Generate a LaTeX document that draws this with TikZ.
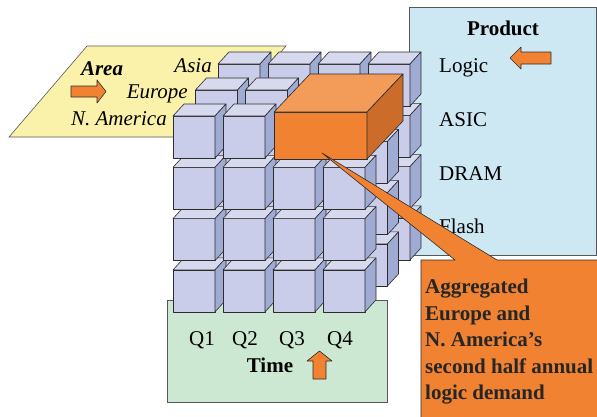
\documentclass[tikz,border=0pt]{standalone}
\usepackage{fontspec}
\setmainfont{Liberation Serif}
\definecolor{cubefront}{RGB}{201,205,233}
\definecolor{cubetop}{RGB}{215,218,239}
\definecolor{cubeside}{RGB}{160,171,211}
\definecolor{orfront}{RGB}{240,130,50}
\definecolor{ortop}{RGB}{243,155,88}
\definecolor{orside}{RGB}{203,108,42}
\definecolor{areabg}{RGB}{250,241,170}
\definecolor{prodbg}{RGB}{205,232,243}
\definecolor{timebg}{RGB}{204,232,210}
\definecolor{edge}{RGB}{45,45,45}
\tikzstyle{face}=[draw=edge, line width=0.6pt, line join=round]
\tikzstyle{panel}=[draw=edge!80, line width=0.6pt]
\tikzstyle{lbl}=[inner sep=0pt, font=\fontsize{21}{26}\selectfont]
\tikzstyle{blockarrow}=[face, fill=orfront]
\tikzset{blk/.pic={
    \filldraw[face, fill=cubefront] (0,0) rectangle (42,42);
    \filldraw[face, fill=cubetop] (0,0) -- (11,-12) -- (53,-12) -- (42,0) -- cycle;
    \filldraw[face, fill=cubeside] (42,0) -- (53,-12) -- (53,30) -- (42,42) -- cycle;
}}

\begin{document}
\begin{tikzpicture}[x=1pt, y=-1pt]
    \useasboundingbox (0,0) rectangle (597,416);
    % panels
    \filldraw[panel, fill=areabg] (87,46) -- (286,46) -- (208,137) -- (9,137) -- cycle;
    \filldraw[panel, fill=prodbg] (409,7) rectangle (596,255);
    \filldraw[panel, fill=timebg] (167,300) rectangle (387,402);
    % area labels
    \node[lbl, anchor=base, font=\fontsize{21}{26}\selectfont\bfseries\itshape] (area) at (102,75) {Area};
    \node[lbl, anchor=base east, font=\fontsize{21}{26}\selectfont\itshape] (asia) at (212,72) {Asia};
    \node[lbl, anchor=base east, font=\fontsize{21}{26}\selectfont\itshape] (eur) at (188,98) {Europe};
    \node[lbl, anchor=base east, font=\fontsize{21}{26}\selectfont\itshape] (nam) at (167,125) {N. America};
    \filldraw[blockarrow] (71,86) -- (97,86) -- (97,80) -- (106,91.5) -- (97,103) -- (97,97) -- (71,97) -- cycle;
    % product labels
    \node[lbl, anchor=base, font=\fontsize{21}{26}\selectfont\bfseries] (prod) at (503,35) {Product};
    \node[lbl, anchor=base west] (logic) at (439,72) {Logic};
    \node[lbl, anchor=base west] (asic) at (439,126) {ASIC};
    \node[lbl, anchor=base west] (dram) at (439,180) {DRAM};
    \node[lbl, anchor=base west] (flash) at (439,233) {Flash};
    \filldraw[blockarrow] (551,52) -- (521,52) -- (521,47) -- (510,58) -- (521,69) -- (521,64) -- (551,64) -- cycle;
    % time labels
    \foreach \q/\x in {1/202, 2/245, 3/292, 4/340}
        \node[lbl, anchor=base] (q\q) at (\x,345) {Q\q};
    \node[lbl, anchor=base, font=\fontsize{21}{26}\selectfont\bfseries] (time) at (270,372) {Time};
    \filldraw[blockarrow] (313,379) -- (313,361) -- (307,361) -- (319.5,351) -- (332,361) -- (326,361) -- (326,379) -- cycle;
    % cubes, back to front
    \foreach \l in {2,1,0}
      \foreach \r in {3,2,1,0}
        \foreach \c in {0,...,3} {
          \pgfmathtruncatemacro\hide{and(and(\r==0,\c>1),\l<2)}
          \ifnum\hide=0
            \pic at ({173+50*\c+22.5*\l},{116+51.3*\r-26*\l}) {blk};
          \fi
        }
    % aggregated block
    \filldraw[face, fill=orfront] (274,112) rectangle (367,159);
    \filldraw[face, fill=ortop] (274,112) -- (310,74) -- (403,74) -- (367,112) -- cycle;
    \filldraw[face, fill=orside] (367,112) -- (403,74) -- (403,121) -- (367,159) -- cycle;
    \coordinate (tip) at (322,153);
    % callout
    \filldraw[face, fill=orfront] (tip) -- (455,260) -- (421,260) -- (421,418) -- (599,418)
        -- (599,260) -- (497,260) -- cycle;
    \node[lbl, anchor=north west, align=left, font=\fontsize{21}{26.5}\selectfont\bfseries,
          text=black!85] (note) at (425,279)
        {Aggregated\\Europe and\\N. America’s\\second half annual\\logic demand};
\end{tikzpicture}
\end{document}
